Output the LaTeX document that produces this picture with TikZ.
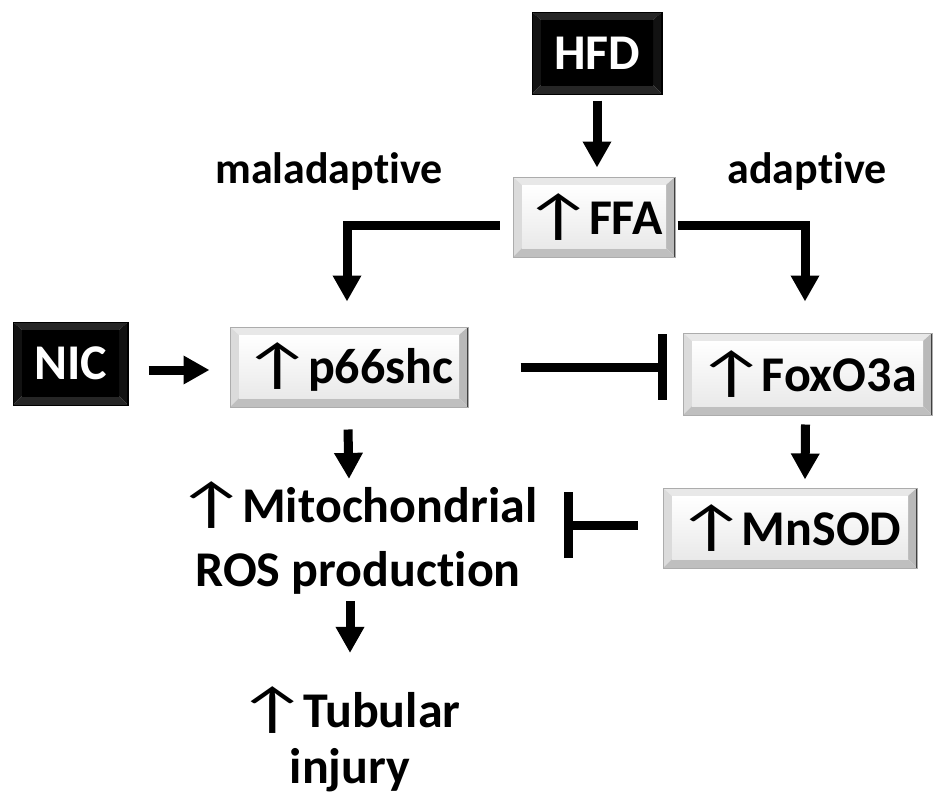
\documentclass[tikz,border=0pt]{standalone}
\usepackage{fontspec}
\usepackage{graphicx}
\setmainfont{Carlito}[Ligatures=NoCommon]
\usetikzlibrary{arrows.meta,calc}
\newcommand\upar{\hspace{-3pt}\scalebox{1.6}[1.12]{\mdseries ↑}\hspace{-6pt}}
\tikzset{
  basefont/.style={font=\bfseries\fontsize{50}{61}\selectfont, inner sep=0pt},
  bevelbox/.style n args={6}{basefont, path picture={
    \coordinate (NW) at (path picture bounding box.north west);
    \coordinate (NE) at (path picture bounding box.north east);
    \coordinate (SW) at (path picture bounding box.south west);
    \coordinate (SE) at (path picture bounding box.south east);
    \fill[#1] (NW) -- (NE) -- ([shift={(-9pt,-8pt)}]NE) -- ([shift={(9pt,-8pt)}]NW) -- cycle;
    \fill[#2] (NW) -- ([shift={(9pt,-8pt)}]NW) -- ([shift={(9pt,9pt)}]SW) -- (SW) -- cycle;
    \fill[#3] (NE) -- (SE) -- ([shift={(-9pt,9pt)}]SE) -- ([shift={(-9pt,-8pt)}]NE) -- cycle;
    \fill[#4] (SW) -- (SE) -- ([shift={(-9pt,9pt)}]SE) -- ([shift={(9pt,9pt)}]SW) -- cycle;
    \shade[#5] ([shift={(9pt,-8pt)}]NW) rectangle ([shift={(-9pt,9pt)}]SE);
    \draw[#6, line width=3pt] (NE) -- (SE);
  }},
  graybox/.style={bevelbox={gray!18}{gray!28}{gray!55}{gray!50}{top color=white, bottom color=gray!17}{black!75},
    draw=gray!65, line width=1pt, text=black},
  blackbox/.style={bevelbox={black!85}{black!93}{black!93}{black!85}{top color=black, bottom color=black}{black},
    draw=black, line width=1pt, text=white},
  lbl/.style={font=\bfseries\fontsize{44}{53}\selectfont, inner sep=0pt},
  txt/.style={basefont, align=center},
  arr/.style={line width=9pt, -{Triangle[width=27pt,length=26pt]}},
  inh/.style={line width=9pt, -{Bar[width=66pt]}},
}
\begin{document}
\begin{tikzpicture}[x=1pt,y=-1pt]
\useasboundingbox[fill=white] (0,0) rectangle (945,809);
\node[blackbox, minimum width=130pt, minimum height=82pt] (hfd) at (597,53) {HFD};
\node[graybox, minimum width=162pt, minimum height=80pt] (ffa) at (594,217) {\upar FFA};
\node[blackbox, minimum width=115pt, minimum height=83pt] (nic) at (70.5,363.5) {NIC};
\node[graybox, minimum width=238pt, minimum height=80pt] (p66) at (349,367) {\upar p66shc};
\node[graybox, minimum width=249pt, minimum height=82pt] (fox) at (807.5,374) {\upar FoxO3a};
\node[graybox, minimum width=254pt, minimum height=80pt] (mn) at (790,528) {\upar MnSOD};
\node[lbl, anchor=base] (mal) at (329,183) {maladaptive};
\node[lbl, anchor=base] (ad) at (807,183) {adaptive};
\node[txt, anchor=base, font=\bfseries\fontsize{50}{64}\selectfont] (mito) at (358,586) {\upar Mitochondrial\\ROS production};
\node[txt, anchor=base, font=\bfseries\fontsize{50}{56}\selectfont] (tub) at (350,783) {\upar Tubular\\injury};
\coordinate (mitobar) at (564,525);
\draw[arr] ([yshift=-6pt]hfd.south) -- ([yshift=9pt]hfd.south |- ffa.north);
\draw[arr] ([xshift=-13pt,yshift=-8pt]ffa.west) -| ([xshift=-2pt,yshift=25pt]p66.north);
\draw[arr] ([xshift=2pt,yshift=-8pt]ffa.east) -| ([xshift=-2.5pt,yshift=31pt]fox.north);
\draw[arr] ([xshift=20pt,yshift=-6.5pt]nic.east) -- ([xshift=-20pt,yshift=-3pt]p66.west);
\draw[inh] ([xshift=52pt]p66.east) -- ([xshift=-16pt]fox.west |- p66.east);
\draw[arr] ([xshift=-2pt,yshift=-9pt]fox.south) -- ([xshift=15pt,yshift=8pt]mn.north);
\draw[arr] ([xshift=-1pt,yshift=-22pt]p66.south) -- ([yshift=2pt]p66.south |- mito.north);
\draw[arr] ([yshift=-7pt]mito.south -| tub.north) -- ([yshift=33pt]tub.north);
\draw[inh] ([xshift=-25pt,yshift=3pt]mn.west) -- (mitobar);
\end{tikzpicture}
\end{document}
